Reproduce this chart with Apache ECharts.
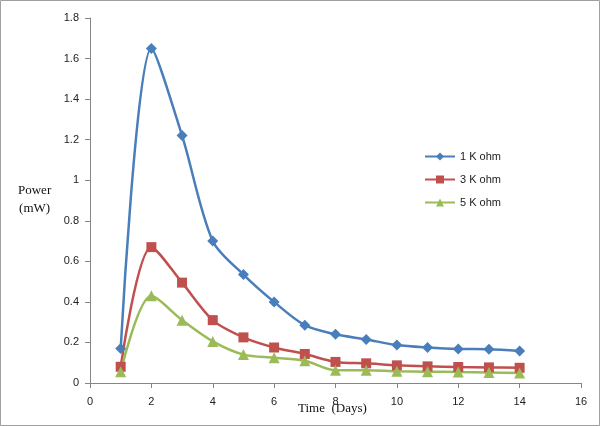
<!DOCTYPE html>
<html>
<head>
<meta charset="utf-8">
<script src="https://cdn.jsdelivr.net/npm/echarts@6/dist/echarts.min.js"></script>
<style>
  html, body { margin: 0; padding: 0; background: #fff; }
  #chart { width: 600px; height: 426px; }
</style>
</head>
<body>
<div id="chart"></div>
<script>
// days on the x axis
const days = [1, 2, 3, 4, 5, 6, 7, 8, 9, 10, 11, 12, 13, 14];

// power (mW) per load resistance
const ohm1k = [0.17, 1.65, 1.22, 0.70, 0.535, 0.40, 0.285, 0.24, 0.215, 0.187, 0.175, 0.168, 0.167, 0.158];
const ohm3k = [0.08, 0.67, 0.495, 0.31, 0.225, 0.175, 0.143, 0.104, 0.097, 0.087, 0.082, 0.079, 0.077, 0.075];
const ohm5k = [0.055, 0.43, 0.31, 0.205, 0.14, 0.125, 0.11, 0.063, 0.063, 0.058, 0.056, 0.054, 0.052, 0.049];

const seriesNames = ['1 K ohm', '3 K ohm', '5 K ohm'];

const chart = echarts.init(document.getElementById('chart'));

// pair days with values for a value x axis
const pairs = (vals) => days.map((d, i) => [d, vals[i]]);

const axisGrey = '#868686';
const labelFont = { fontFamily: 'Liberation Sans, Arial, sans-serif', fontSize: 11, color: '#222' };

function lineSeries(name, vals, color, symbol, size) {
  return {
    name: name,
    type: 'line',
    data: pairs(vals),
    smooth: 0.3,
    symbol: symbol,
    symbolSize: size,
    lineStyle: { color: color, width: 2.5 },
    itemStyle: { color: color },
    emphasis: { disabled: true }
  };
}

chart.setOption({
  animation: false,
  backgroundColor: '#fff',
  grid: { left: 90, right: 19, top: 18, bottom: 43 },
  legend: {
    orient: 'vertical',
    left: 419,
    top: 146,
    itemGap: 12,
    itemWidth: 30,
    itemHeight: 10,
    textStyle: labelFont,
    data: seriesNames
  },
  xAxis: {
    type: 'value',
    min: 0,
    max: 16,
    interval: 2,
    splitLine: { show: false },
    axisLine: { lineStyle: { color: axisGrey } },
    axisTick: { lineStyle: { color: axisGrey }, length: 5 },
    axisLabel: Object.assign({ margin: 13 }, labelFont)
  },
  yAxis: {
    type: 'value',
    min: 0,
    max: 1.8,
    interval: 0.2,
    splitLine: { show: false },
    axisLine: { show: true, lineStyle: { color: axisGrey } },
    axisTick: { show: true, lineStyle: { color: axisGrey }, length: 5 },
    axisLabel: Object.assign({ margin: 11, formatter: (v) => +v.toFixed(1) + '' }, labelFont)
  },
  graphic: [
    {
      type: 'rect',
      shape: { x: 0.5, y: 0.5, width: 599, height: 425 },
      style: { fill: 'none', stroke: '#a0a0a0', lineWidth: 1 },
      silent: true
    },
    {
      type: 'text',
      left: 18,
      top: 182,
      style: {
        text: 'Power\n(mW)',
        textAlign: 'center',
        font: '13px "Liberation Serif", "Times New Roman", serif',
        lineHeight: 18,
        fill: '#111'
      }
    },
    {
      type: 'text',
      left: 298,
      top: 402,
      style: {
        text: 'Time  (Days)',
        font: '13px "Liberation Serif", "Times New Roman", serif',
        fill: '#111'
      }
    }
  ],
  series: [
    lineSeries(seriesNames[0], ohm1k, '#4a7ebb', 'diamond', 11),
    lineSeries(seriesNames[1], ohm3k, '#c0504d', 'rect', 10),
    lineSeries(seriesNames[2], ohm5k, '#9bbb59', 'triangle', 11)
  ]
});
</script>
</body>
</html>
